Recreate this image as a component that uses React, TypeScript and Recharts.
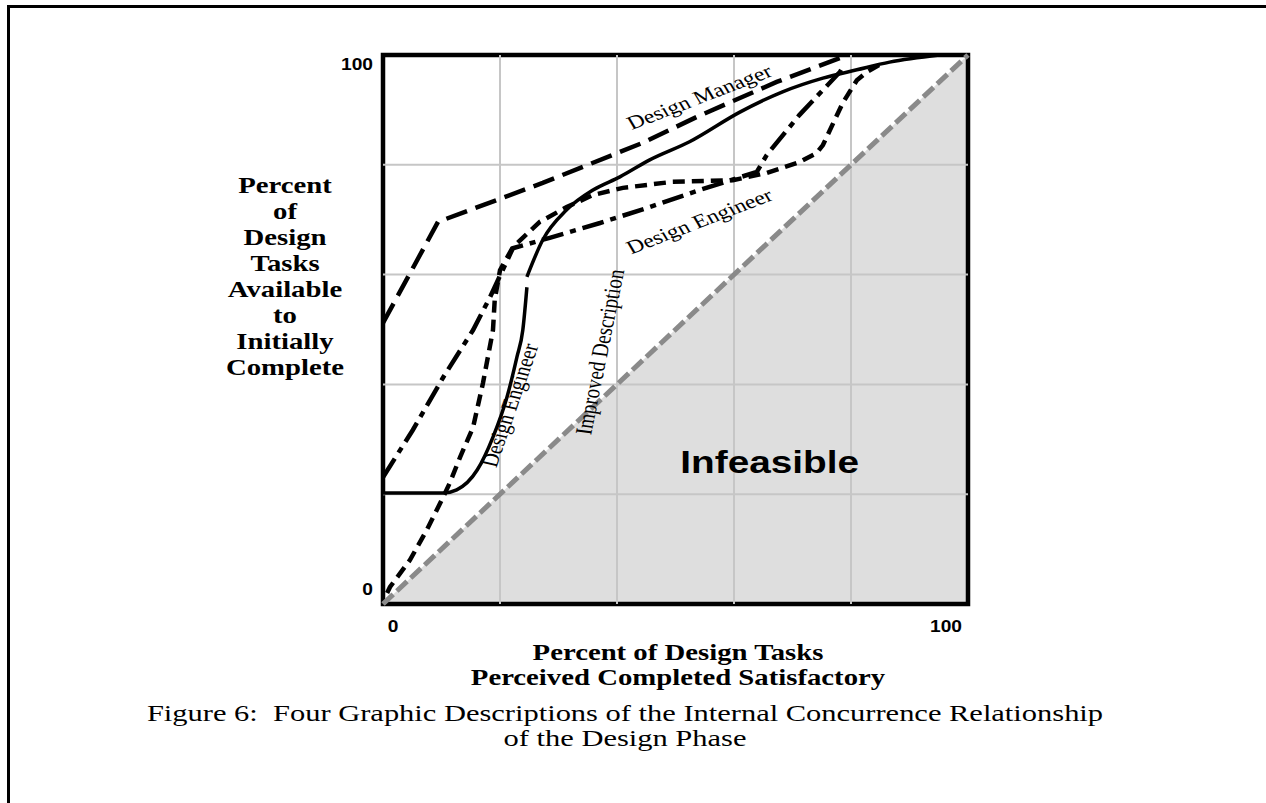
import { ComposedChart, Line, Area, XAxis, YAxis, ReferenceLine, ReferenceArea, ReferenceDot } from 'recharts'

// axis values (percent)
const axisTicks = [0, 100]
const gridValues = [20, 40, 60, 80]

// infeasible boundary: completed can never exceed available
const diagonal = [
  { x: 0, y: 0 },
  { x: 100, y: 100 },
]

// Design Manager (long dashes)
const managerCurve = [
  { x: 0, y: 51.2 },
  { x: 9.4, y: 69.6 },
  { x: 27.3, y: 76.7 },
  { x: 44.4, y: 84.0 },
  { x: 53.6, y: 88.7 },
  { x: 67.3, y: 95.1 },
  { x: 79.5, y: 100 },
]

// Design Engineer (dash-dot)
const engineerDashDot = [
  { x: 0, y: 23.1 },
  { x: 5.1, y: 31.7 },
  { x: 10.3, y: 41.3 },
  { x: 15.4, y: 49.9 },
  { x: 18.3, y: 55.9 },
  { x: 22.2, y: 64.8 },
  { x: 28.5, y: 66.7 },
  { x: 37.1, y: 69.4 },
  { x: 45.6, y: 72.3 },
  { x: 54.1, y: 75.4 },
  { x: 63.9, y: 78.7 },
  { x: 65.6, y: 81.8 },
  { x: 71.2, y: 89.1 },
  { x: 78.1, y: 96.9 },
  { x: 78.9, y: 98.4 },
]

// short dashes
const shortDashCurve = [
  { x: 0.7, y: 2.0 },
  { x: 1.2, y: 3.1 },
  { x: 4.6, y: 8.0 },
  { x: 7.5, y: 13.5 },
  { x: 10.3, y: 19.5 },
  { x: 11.4, y: 22.0 },
  { x: 13.2, y: 26.8 },
  { x: 15.4, y: 32.2 },
  { x: 17.1, y: 40.3 },
  { x: 18.8, y: 49.9 },
  { x: 19.1, y: 55.4 },
  { x: 20.0, y: 60.8 },
  { x: 22.2, y: 65.0 },
  { x: 26.8, y: 69.6 },
  { x: 31.4, y: 72.3 },
  { x: 35.9, y: 74.5 },
  { x: 41.0, y: 75.8 },
  { x: 49.5, y: 76.9 },
  { x: 59.8, y: 77.2 },
  { x: 65.6, y: 78.5 },
  { x: 71.2, y: 80.5 },
  { x: 74.1, y: 82.1 },
  { x: 75.2, y: 83.6 },
  { x: 78.6, y: 91.3 },
  { x: 81.0, y: 95.4 },
  { x: 82.7, y: 96.9 },
  { x: 85.7, y: 98.7 },
]

// solid curve, drawn in two pieces (small gap near 58%)
const solidLower = [
  { x: 0, y: 20.2 },
  { x: 10.2, y: 20.2 },
  { x: 12.6, y: 20.8 },
  { x: 16.1, y: 24.4 },
  { x: 18.8, y: 30.4 },
  { x: 21.2, y: 37.7 },
  { x: 22.9, y: 45.0 },
  { x: 23.9, y: 49.9 },
  { x: 24.6, y: 57.7 },
]
const solidUpper = [
  { x: 24.6, y: 59.6 },
  { x: 27.3, y: 66.3 },
  { x: 31.4, y: 71.8 },
  { x: 35.9, y: 75.4 },
  { x: 40.5, y: 77.8 },
  { x: 45.6, y: 80.9 },
  { x: 52.4, y: 84.2 },
  { x: 61.0, y: 89.6 },
  { x: 68.3, y: 93.3 },
  { x: 75.2, y: 95.8 },
  { x: 81.0, y: 97.3 },
  { x: 86.6, y: 98.7 },
  { x: 95.1, y: 100 },
]

// angle = rotation before the horizontal stretch
const curveLabels = [
  { text: 'Design Manager', x: 54.1, y: 92.3, angle: -25.6 },
  { text: 'Design Engineer', x: 54.1, y: 69.7, angle: -25.6 },
  { text: 'Design Engineer', x: 21.7, y: 36.2, angle: -74.5 },
  { text: 'Improved Description', x: 37.1, y: 45.9, angle: -80.8 },
]

const yTitleLines = ['Percent', 'of', 'Design', 'Tasks', 'Available', 'to', 'Initially', 'Complete']
const xTitleLines = ['Percent of Design Tasks', 'Perceived Completed Satisfactory']
const captionLines = [
  'Figure 6:  Four Graphic Descriptions of the Internal Concurrence Relationship',
  'of the Design Phase',
]

const SERIF = '"Liberation Serif", "Times New Roman", serif'
const SANS = '"Liberation Sans", Arial, sans-serif'
const STRETCH = 1.25

function XTick({ x, y, payload }: any) {
  const dx = payload.value === 0 ? 10 : -22
  return (
    <text
      transform={`translate(${x + dx},${y + 23}) scale(1.2,1)`}
      textAnchor="middle"
      dominantBaseline="central"
      fontFamily={SANS}
      fontWeight="bold"
      fontSize={16}
      fill="#000"
    >
      {payload.value}
    </text>
  )
}

function YTick({ x, y, payload }: any) {
  const dy = payload.value === 0 ? -14 : 10
  return (
    <text
      transform={`translate(${x - 10},${y + dy}) scale(1.2,1)`}
      textAnchor="end"
      dominantBaseline="central"
      fontFamily={SANS}
      fontWeight="bold"
      fontSize={16}
      fill="#000"
    >
      {payload.value}
    </text>
  )
}

const rotatedLabel = (text: string, angle: number) => (props: any) => {
  const { viewBox } = props
  const cx = viewBox.x + (viewBox.width || 0) / 2
  const cy = viewBox.y + (viewBox.height || 0) / 2
  return (
    <text
      transform={`translate(${cx},${cy}) scale(${STRETCH},1) rotate(${angle})`}
      textAnchor="middle"
      dominantBaseline="central"
      fontFamily={SERIF}
      fontSize={19}
      fill="#000"
    >
      {text}
    </text>
  )
}

const infeasibleLabel = (props: any) => {
  const { viewBox } = props
  const cx = viewBox.x + (viewBox.width || 0) / 2
  const cy = viewBox.y + (viewBox.height || 0) / 2
  return (
    <text
      transform={`translate(${cx},${cy}) scale(${STRETCH},1)`}
      textAnchor="middle"
      dominantBaseline="central"
      fontFamily={SANS}
      fontWeight="bold"
      fontSize={31}
      fill="#000"
    >
      Infeasible
    </text>
  )
}

export default function App() {
  return (
    <div style={{ position: 'absolute', left: 0, top: 0, width: 1266, height: 803, overflow: 'hidden', background: '#fff' }}>
      <div
        style={{
          position: 'absolute',
          left: 7,
          top: 5,
          width: 1266,
          height: 803,
          borderTop: '3px solid #000',
          borderLeft: '3px solid #000',
        }}
      />
      <div style={{ position: 'absolute', left: 0, top: 0 }}>
        <ComposedChart width={1266} height={800} margin={{ top: 55, right: 298, bottom: 166, left: 343 }}>
          <XAxis
            type="number"
            dataKey="x"
            domain={[0, 100]}
            ticks={axisTicks}
            axisLine={false}
            tickLine={false}
            tickSize={0}
            tickMargin={0}
            height={30}
            tick={<XTick />}
            allowDuplicatedCategory={false}
          />
          <YAxis
            type="number"
            dataKey="y"
            domain={[0, 100]}
            ticks={axisTicks}
            axisLine={false}
            tickLine={false}
            tickSize={0}
            tickMargin={0}
            width={40}
            tick={<YTick />}
          />
          <Area
            data={diagonal}
            dataKey="y"
            type="linear"
            fill="#dedede"
            fillOpacity={1}
            stroke="none"
            isAnimationActive={false}
            legendType="none"
          />
          {gridValues.map((v) => (
            <ReferenceLine key={`gx${v}`} x={v} stroke="#c6c6c6" strokeWidth={2} />
          ))}
          {gridValues.map((v) => (
            <ReferenceLine key={`gy${v}`} y={v} stroke="#c6c6c6" strokeWidth={2} />
          ))}
          <ReferenceDot x={66.1} y={25.9} r={0} stroke="none" fill="none" label={infeasibleLabel} />
          <Line
            data={diagonal}
            dataKey="y"
            type="linear"
            stroke="#8a8a8a"
            strokeWidth={5}
            strokeDasharray="14 5"
            dot={false}
            activeDot={false}
            isAnimationActive={false}
          />
          <Line
            data={managerCurve}
            dataKey="y"
            type="linear"
            stroke="#000"
            strokeWidth={4.5}
            strokeDasharray="22 9"
            dot={false}
            activeDot={false}
            isAnimationActive={false}
          />
          <Line
            data={engineerDashDot}
            dataKey="y"
            type="linear"
            stroke="#000"
            strokeWidth={4.5}
            strokeDasharray="22 7 6 7"
            dot={false}
            activeDot={false}
            isAnimationActive={false}
          />
          <Line
            data={shortDashCurve}
            dataKey="y"
            type="linear"
            stroke="#000"
            strokeWidth={4.5}
            strokeDasharray="12 7"
            dot={false}
            activeDot={false}
            isAnimationActive={false}
          />
          <Line
            data={solidLower}
            dataKey="y"
            type="monotone"
            stroke="#000"
            strokeWidth={3.5}
            dot={false}
            activeDot={false}
            isAnimationActive={false}
          />
          <Line
            data={solidUpper}
            dataKey="y"
            type="monotone"
            stroke="#000"
            strokeWidth={3.5}
            dot={false}
            activeDot={false}
            isAnimationActive={false}
          />
          {curveLabels.map((l, i) => (
            <ReferenceDot key={i} x={l.x} y={l.y} r={0} stroke="none" fill="none" label={rotatedLabel(l.text, l.angle)} />
          ))}
          <ReferenceArea x1={0} x2={100} y1={0} y2={100} fill="none" stroke="#000" strokeWidth={4.5} ifOverflow="visible" />
        </ComposedChart>
      </div>
      <svg style={{ position: 'absolute', left: 0, top: 0 }} width={1266} height={803}>
        {yTitleLines.map((t, i) => (
          <text
            key={t}
            transform={`translate(285,${193 + i * 26}) scale(${STRETCH},1)`}
            textAnchor="middle"
            fontFamily={SERIF}
            fontWeight="bold"
            fontSize={23}
          >
            {t}
          </text>
        ))}
        {xTitleLines.map((t, i) => (
          <text
            key={t}
            transform={`translate(678,${660 + i * 25}) scale(${STRETCH},1)`}
            textAnchor="middle"
            fontFamily={SERIF}
            fontWeight="bold"
            fontSize={23}
          >
            {t}
          </text>
        ))}
        {captionLines.map((t, i) => (
          <text
            key={t}
            transform={`translate(625,${721 + i * 25}) scale(1.27,1)`}
            textAnchor="middle"
            fontFamily={SERIF}
            fontSize={24}
            xmlSpace="preserve"
          >
            {t}
          </text>
        ))}
      </svg>
    </div>
  )
}
